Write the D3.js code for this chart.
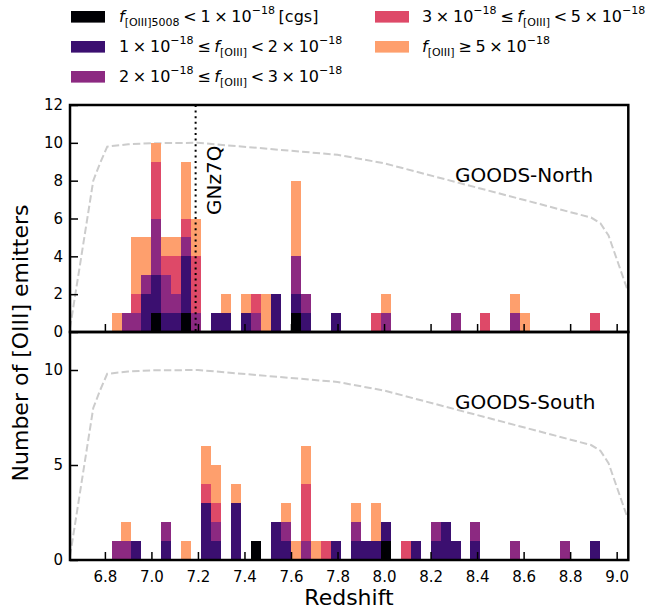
<!DOCTYPE html>
<html><head><meta charset="utf-8">
<script src="https://cdn.jsdelivr.net/npm/d3@7"></script>
<style>
body{margin:0;background:#fff}
svg{display:block}
text{font-family:"DejaVu Sans",sans-serif;fill:#000}
</style>
</head><body>
<svg id="chart" width="652" height="612"></svg>
<script>
// ---------- data ----------
const categoryKeys = ["lt1", "f12", "f23", "f35", "ge5"];
const categoryColors = ["#000004", "#3b0f70", "#8c2981", "#de4968", "#fe9f6d"];
const binWidth = 0.042857;

// GOODS-North: lower bin edges (redshift) and counts per flux category
const northZ   = [6.829, 6.871, 6.914, 6.957, 7.000, 7.043, 7.086, 7.129, 7.171, 7.257, 7.300, 7.386, 7.429, 7.471, 7.514, 7.600, 7.643, 7.771, 7.943, 7.986, 8.286, 8.414, 8.543, 8.586, 8.886];
const northLt1 = [0, 0, 0, 0, 1, 0, 0, 1, 0, 0, 0, 0, 0, 0, 0, 1, 0, 0, 0, 0, 0, 0, 0, 0, 0];
const northF12 = [0, 0, 0, 2, 2, 1, 1, 3, 0, 1, 1, 1, 0, 0, 2, 1, 1, 1, 0, 0, 0, 0, 0, 0, 0];
const northF23 = [0, 1, 1, 1, 3, 2, 1, 1, 1, 0, 0, 0, 1, 0, 0, 2, 1, 0, 0, 1, 1, 0, 1, 0, 0];
const northF35 = [0, 0, 1, 0, 3, 1, 2, 1, 3, 0, 0, 0, 1, 0, 0, 0, 0, 0, 1, 0, 0, 1, 0, 0, 1];
const northGe5 = [1, 0, 3, 2, 1, 1, 1, 3, 2, 0, 1, 1, 0, 2, 0, 4, 0, 0, 0, 1, 0, 0, 1, 1, 0];

// GOODS-South
const southZ   = [6.829, 6.871, 6.914, 7.043, 7.129, 7.214, 7.257, 7.343, 7.429, 7.514, 7.557, 7.600, 7.643, 7.686, 7.729, 7.771, 7.857, 7.900, 7.943, 7.986, 8.071, 8.114, 8.200, 8.243, 8.286, 8.371, 8.543, 8.757, 8.886];
const southLt1 = [0, 0, 0, 0, 0, 0, 0, 0, 1, 0, 0, 0, 0, 0, 0, 0, 0, 0, 0, 1, 0, 0, 0, 0, 0, 0, 0, 0, 0];
const southF12 = [0, 0, 1, 1, 0, 3, 1, 3, 0, 2, 1, 0, 0, 0, 0, 1, 1, 1, 1, 1, 0, 1, 1, 2, 1, 1, 0, 0, 1];
const southF23 = [1, 1, 0, 1, 0, 0, 1, 0, 0, 0, 1, 0, 1, 0, 0, 0, 1, 0, 0, 0, 0, 0, 1, 0, 0, 1, 1, 1, 0];
const southF35 = [0, 0, 0, 0, 0, 1, 1, 0, 0, 0, 0, 0, 3, 0, 1, 0, 0, 0, 0, 0, 1, 0, 0, 0, 0, 0, 0, 0, 0];
const southGe5 = [0, 1, 0, 0, 1, 2, 2, 1, 0, 0, 1, 1, 2, 1, 0, 0, 1, 0, 2, 0, 0, 0, 0, 0, 0, 0, 0, 0, 0];

// scaled completeness curve (grey dashed)
const curveZ = [6.65, 6.75, 6.78, 6.81, 6.90, 7.00, 7.20, 7.80, 8.00, 8.89, 8.93, 8.965, 9.05];
const curveN = [0.2, 8.0, 8.95, 9.8, 9.92, 9.98, 10.0, 9.37, 8.92, 6.05, 5.75, 5.1, 2.1];

const xTicks = [6.8, 7.0, 7.2, 7.4, 7.6, 7.8, 8.0, 8.2, 8.4, 8.6, 8.8, 9.0];
const yTicksNorth = [0, 2, 4, 6, 8, 10, 12];
const yTicksSouth = [0, 5, 10];
const gnz7qZ = 7.19;

// legend tokens: [text, style]  style: n=normal, i=italic, b=subscript, p=superscript
const legendItems = [
  [["f","i"],["[OIII]5008","b"],[" < 1 × 10","n"],["−18","p"],[" [cgs]","n"]],
  [["1 × 10","n"],["−18","p"],[" ≤ ","n"],["f","i"],["[OIII]","b"],[" < 2 × 10","n"],["−18","p"]],
  [["2 × 10","n"],["−18","p"],[" ≤ ","n"],["f","i"],["[OIII]","b"],[" < 3 × 10","n"],["−18","p"]],
  [["3 × 10","n"],["−18","p"],[" ≤ ","n"],["f","i"],["[OIII]","b"],[" < 5 × 10","n"],["−18","p"]],
  [["f","i"],["[OIII]","b"],[" ≥ 5 × 10","n"],["−18","p"]]
];

// ---------- drawing ----------
const svg = d3.select("#chart");
svg.append("rect").attr("width", 652).attr("height", 612).attr("fill", "#fff");

const x = d3.scaleLinear().domain([6.65, 9.05]).range([70, 628.3]);

const panels = [
  {name: "GOODS-North", z: northZ, cols: [northLt1, northF12, northF23, northF35, northGe5],
   top: 105, bottom: 332, ticks: yTicksNorth, labelY: 181.5, showX: false},
  {name: "GOODS-South", z: southZ, cols: [southLt1, southF12, southF23, southF35, southGe5],
   top: 332, bottom: 560, ticks: yTicksSouth, labelY: 408.5, showX: true}
];

const stack = d3.stack().keys(categoryKeys);

panels.forEach((p, pi) => {
  const y = d3.scaleLinear().domain([0, 12]).range([p.bottom, p.top]);
  const g = svg.append("g");
  const clipId = "clip" + pi;
  svg.append("clipPath").attr("id", clipId).append("rect")
    .attr("x", x.range()[0]).attr("y", p.top).attr("width", x.range()[1] - x.range()[0]).attr("height", p.bottom - p.top);

  // completeness curve
  const line = d3.line().x(d => x(d[0])).y(d => y(d[1]));
  g.append("path")
    .attr("clip-path", `url(#${clipId})`)
    .attr("d", line(curveZ.map((z, i) => [z, curveN[i]])))
    .attr("fill", "none").attr("stroke", "#cccccc").attr("stroke-width", 2)
    .attr("stroke-dasharray", "7.4,3.2");

  // stacked bars
  const rows = p.z.map((z, i) => {
    const r = {z};
    categoryKeys.forEach((k, ci) => r[k] = p.cols[ci][i]);
    return r;
  });
  const series = stack(rows);
  g.selectAll("g.series").data(series).join("g")
    .attr("fill", (d, i) => categoryColors[i])
    .selectAll("rect").data(d => d.filter(s => s[1] > s[0])).join("rect")
    .attr("shape-rendering", "crispEdges")
    .attr("x", d => x(d.data.z))
    .attr("width", d => x(d.data.z + binWidth) - x(d.data.z))
    .attr("y", d => y(d[1]))
    .attr("height", d => y(d[0]) - y(d[1]));

  // GNz7Q marker in north panel
  if (pi === 0) {
    g.append("line")
      .attr("x1", x(gnz7qZ)).attr("x2", x(gnz7qZ))
      .attr("y1", p.top).attr("y2", p.bottom)
      .attr("stroke", "#000").attr("stroke-width", 2).attr("stroke-dasharray", "2,3.6");
    g.append("text")
      .attr("transform", `translate(${x(gnz7qZ) + 25},215) rotate(-90)`)
      .attr("font-size", 20).text("GNz7Q");
  }

  // panel label
  g.append("text").attr("x", 455).attr("y", p.labelY).attr("font-size", 20).text(p.name);

  // y axis
  const yAxis = d3.axisLeft(y).tickValues(p.ticks).tickFormat(d3.format("d"))
    .tickSizeInner(-8).tickSizeOuter(0).tickPadding(7);
  const ya = svg.append("g").attr("transform", `translate(${x.range()[0]},0)`).call(yAxis);
  ya.select(".domain").remove();
  ya.selectAll("line").attr("stroke-width", 1.5);
  ya.selectAll("text").attr("font-size", 15).attr("font-family", "DejaVu Sans");

  // x axis
  const xAxis = d3.axisBottom(x).tickValues(xTicks)
    .tickFormat(p.showX ? d3.format(".1f") : "")
    .tickSizeInner(-8).tickSizeOuter(0).tickPadding(11);
  const xa = svg.append("g").attr("transform", `translate(0,${p.bottom})`).call(xAxis);
  xa.select(".domain").remove();
  xa.selectAll("line").attr("stroke-width", 1.5);
  xa.selectAll("text").attr("font-size", 15).attr("font-family", "DejaVu Sans");

  // frame
  svg.append("rect")
    .attr("x", x.range()[0]).attr("y", p.top)
    .attr("width", x.range()[1] - x.range()[0]).attr("height", p.bottom - p.top)
    .attr("fill", "none").attr("stroke", "#000").attr("stroke-width", 2.5);
});

// axis titles
svg.append("text").attr("x", 349).attr("y", 605).attr("text-anchor", "middle")
  .attr("font-size", 22).text("Redshift");
svg.append("text").attr("transform", "translate(28,343) rotate(-90)").attr("text-anchor", "middle")
  .attr("font-size", 22).text("Number of [OIII] emitters");

// legend
const legendPos = [[71, 16.8], [71, 46.8], [71, 76.8], [375, 16.8], [375, 46.8]];
const legendTextX = [119, 119, 119, 422, 422];
legendItems.forEach((tokens, i) => {
  const [px, py] = legendPos[i];
  svg.append("rect").attr("x", px).attr("y", py - 5.8).attr("width", 34).attr("height", 11.6)
    .attr("fill", categoryColors[i]);
  const t = svg.append("text").attr("x", legendTextX[i]).attr("y", py + 5.6)
    .attr("font-size", 16).attr("word-spacing", "-1.4px")
    .attr("xml:space", "preserve").style("white-space", "pre");
  let offset = 0;
  tokens.forEach(([s, st]) => {
    const target = st === "b" ? 3.8 : st === "p" ? -8.3 : 0;
    const ts = t.append("tspan").attr("dy", target - offset).text(s);
    offset = target;
    if (st === "i") ts.attr("font-style", "italic");
    if (st === "b" || st === "p") ts.attr("font-size", 11);
  });
});
</script>
</body></html>
